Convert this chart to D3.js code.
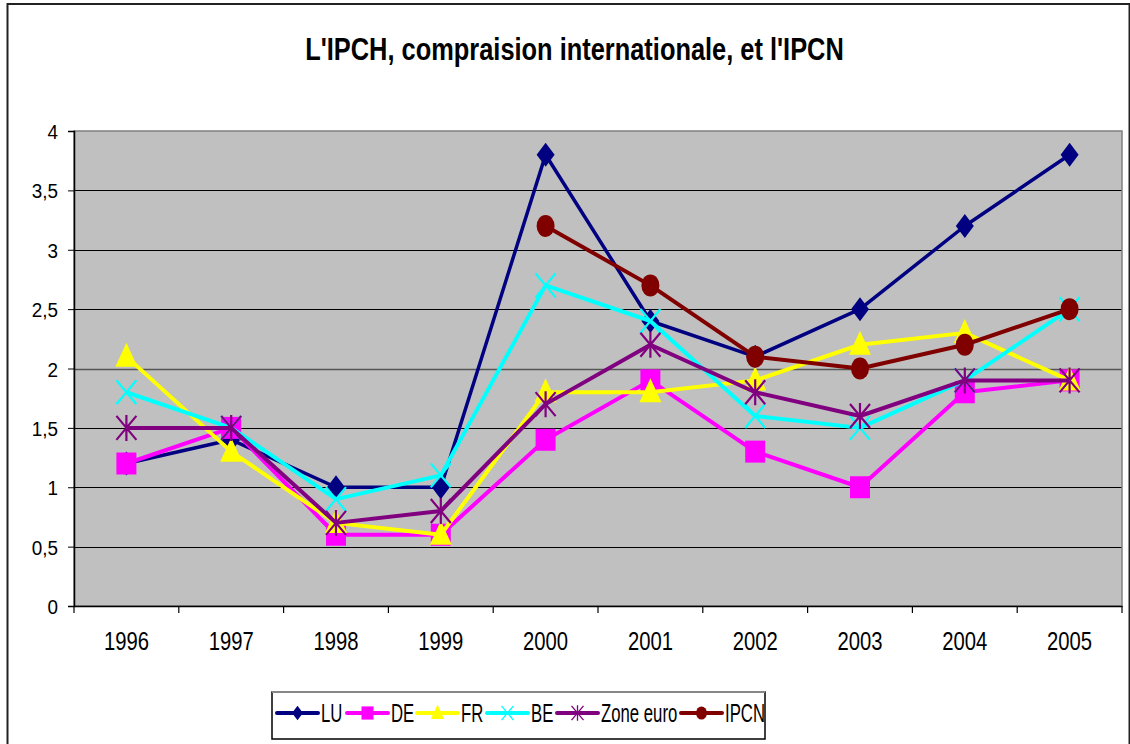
<!DOCTYPE html>
<html><head><meta charset="utf-8">
<script src="https://cdn.jsdelivr.net/npm/d3@7"></script>
<style>
html,body{margin:0;padding:0;background:#fff;}
svg{display:block;}
text{font-family:"Liberation Sans",Arial,sans-serif;}
</style></head>
<body>
<script>
const years = ["1996","1997","1998","1999","2000","2001","2002","2003","2004","2005"];
const yTicks = [0,0.5,1,1.5,2,2.5,3,3.5,4];
const seriesNames = ["LU","DE","FR","BE","Zone euro","IPCN"];
const valLU   = [1.2,1.4,1.0,1.0,3.8,2.4,2.1,2.5,3.2,3.8];
const valDE   = [1.2,1.5,0.6,0.6,1.4,1.9,1.3,1.0,1.8,1.9];
const valFR   = [2.1,1.3,0.7,0.6,1.8,1.8,1.9,2.2,2.3,1.9];
const valBE   = [1.8,1.5,0.9,1.1,2.7,2.4,1.6,1.5,1.9,2.5];
const valZE   = [1.5,1.5,0.7,0.8,1.7,2.2,1.8,1.6,1.9,1.9];
const valIPCN = [null,null,null,null,3.2,2.7,2.1,2.0,2.2,2.5];
const title = "L'IPCH, compraision internationale, et l'IPCN";

const colors = ["#000080","#FF00FF","#FFFF00","#00FFFF","#800080","#800000"];
const markers = ["diamond","square","triangle","x","star","circle"];
const widths = [3.5,4,4,4,4,4];
const seriesVals = [valLU,valDE,valFR,valBE,valZE,valIPCN];

const W=1130,H=744;
const svg=d3.select("body").append("svg").attr("width",W).attr("height",H);
svg.append("rect").attr("x",7.5).attr("y",4).attr("width",1122).attr("height",760)
  .attr("fill","#fff").attr("stroke","#222").attr("stroke-width",2);

function addText(parent,x,y,str,size,sx,anchor,weight){
  const g=parent.append("g").attr("transform",`translate(${x},${y}) scale(${sx},1)`);
  return g.append("text").attr("text-anchor",anchor||"start").attr("font-size",size)
    .attr("font-weight",weight||"normal").attr("fill","#000").text(str);
}

addText(svg,574.5,60,title,31,0.82,"middle","bold");

const L=74,R=1122,T=131,B=606;
const x=d3.scaleBand().domain(years).range([L,R]);
const y=d3.scaleLinear().domain([0,4]).range([B,T]);

svg.append("rect").attr("x",L).attr("y",T).attr("width",R-L).attr("height",B-T).attr("fill","#C0C0C0");
svg.append("g").selectAll("line").data(yTicks.filter(d=>d>0&&d<4)).join("line")
  .attr("x1",L).attr("x2",R).attr("y1",d=>Math.round(y(d))+0.5).attr("y2",d=>Math.round(y(d))+0.5)
  .attr("stroke",d=>d===2?"#555":"#000").attr("stroke-width",d=>d===2?1.6:1);
svg.append("rect").attr("x",L).attr("y",T).attr("width",R-L).attr("height",B-T)
  .attr("fill","none").attr("stroke","#808080").attr("stroke-width",1.5);

// axes
const yAxis=d3.axisLeft(y).tickValues(yTicks).tickSize(6).tickPadding(8)
  .tickFormat(d=>String(d).replace(".",","));
const gy=svg.append("g").attr("transform",`translate(${L},0)`).call(yAxis);
gy.select(".domain").attr("stroke","#000").attr("stroke-width",1.5);
gy.selectAll(".tick line").attr("stroke","#000");
gy.selectAll("text").attr("font-size",21).attr("fill","#000")
  .attr("x",-16/0.9).attr("dy","0.36em").attr("transform","scale(0.9,1)");

const xAxis=d3.axisBottom(x).tickSize(0).tickPadding(26);
const gx=svg.append("g").attr("transform",`translate(0,${B})`).call(xAxis);
gx.select(".domain").attr("stroke","#000").attr("stroke-width",1.5);
gx.selectAll("text").attr("font-size",25).attr("fill","#000").attr("transform","scale(0.81,1)");
svg.append("g").selectAll("line").data(d3.range(years.length+1)).join("line")
  .attr("x1",i=>L+i*x.step()).attr("x2",i=>L+i*x.step()).attr("y1",B).attr("y2",B+7)
  .attr("stroke","#000").attr("stroke-width",1.2);

function drawMarker(g,type,color,cx,cy,s){
  s=s||1;
  const m=g.append("g").attr("transform",`translate(${cx},${cy}) scale(${s})`);
  if(type==="diamond") m.append("path").attr("d","M0,-12L9,0L0,12L-9,0Z").attr("fill",color);
  else if(type==="square") m.append("rect").attr("x",-10).attr("y",-11).attr("width",20).attr("height",22).attr("fill",color);
  else if(type==="triangle") m.append("path").attr("d","M0,-14L11,10L-11,10Z").attr("fill",color);
  else if(type==="x") m.append("path").attr("d","M-10,-12L10,12M-10,12L10,-12").attr("stroke",color).attr("stroke-width",2.2).attr("fill","none");
  else if(type==="star") m.append("path").attr("d","M-10,-12L10,12M-10,12L10,-12M0,-13L0,13").attr("stroke",color).attr("stroke-width",2.2).attr("fill","none");
  else if(type==="circle") m.append("ellipse").attr("rx",9).attr("ry",11).attr("fill",color);
}

const line=d3.line().defined(d=>d.v!==null).x(d=>x(d.k)+x.bandwidth()/2).y(d=>y(d.v));
seriesVals.forEach((vals,i)=>{
  const data=years.map((k,j)=>({k,v:vals[j]}));
  const g=svg.append("g");
  g.append("path").datum(data).attr("d",line).attr("fill","none")
    .attr("stroke",colors[i]).attr("stroke-width",widths[i]).attr("stroke-linejoin","round");
  data.filter(d=>d.v!==null).forEach(d=>drawMarker(g,markers[i],colors[i],x(d.k)+x.bandwidth()/2,y(d.v),1));
});

// legend
const lg=svg.append("g");
lg.append("rect").attr("x",272).attr("y",692).attr("width",493).attr("height",47)
  .attr("fill","#fff").attr("stroke","#000").attr("stroke-width",1.5);
lg.append("line").attr("x1",272).attr("x2",765).attr("y1",692).attr("y2",692).attr("stroke","#888").attr("stroke-width",2);
const legX=[277,347,417,487,557,681];
const ly=713;
seriesNames.forEach((n,i)=>{
  lg.append("line").attr("x1",legX[i]).attr("x2",legX[i]+41).attr("y1",ly).attr("y2",ly)
    .attr("stroke",colors[i]).attr("stroke-width",4).attr("stroke-linecap","round");
  drawMarker(lg,markers[i],colors[i],legX[i]+20.5,ly,0.6);
  addText(lg,legX[i]+44,ly+9,n,25,0.67,"start","normal");
});
</script>
</body></html>
